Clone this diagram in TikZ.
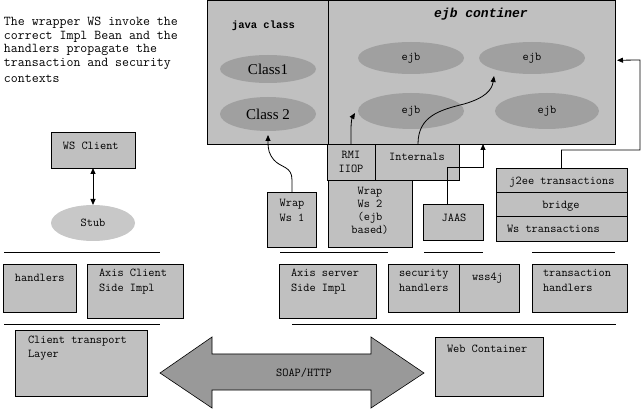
\documentclass[tikz,border=0pt]{standalone}
\usepackage{fontspec}
\setmainfont{Liberation Serif}
\newfontfamily\boldmono{Liberation Mono}
\usetikzlibrary{shapes.geometric,arrows.meta}
\definecolor{boxgray}{HTML}{C0C0C0}
\definecolor{ellgray}{HTML}{A0A0A0}
\definecolor{stubgray}{HTML}{C8C8C8}
\definecolor{arrgray}{HTML}{999999}
\newcommand\mfs{\fontsize{12}{15}\selectfont\ttfamily}
\begin{document}
\begin{tikzpicture}[x=1pt,y=-1pt,
  box/.style={draw, fill=boxgray, line width=0.9pt, inner sep=0, outer sep=0},
  ell/.style={ellipse, fill=ellgray, inner sep=0, outer sep=0, font=\mfs},
  txt/.style={font=\mfs, inner sep=0, outer sep=0},
  arr/.style={line width=0.8pt, -{Triangle[length=6pt,width=5pt]}},
  dblarr/.style={line width=0.8pt, {Triangle[length=6pt,width=5pt]}-{Triangle[length=6pt,width=5pt]}},
  rule/.style={line width=0.9pt}]
\fill[white] (0,0) rectangle (641,409);
\useasboundingbox (0,0) rectangle (641,409);

% description
\node[txt, anchor=north west, align=left, font=\fontsize{13.5}{13.6}\selectfont\ttfamily] (desc) at (4,17)
  {The wrapper WS invoke the\\correct Impl Bean and the\\handlers propagate the\\transaction and security\\[3pt]contexts};

% containers
\node[box, minimum width=121pt, minimum height=143.5pt] (java) at (267.5,72.25) {};
\node[box, minimum width=287pt, minimum height=143.5pt] (ejbc) at (471.5,72.25) {};
\node[txt, font=\fontsize{10.5}{12}\selectfont\boldmono\bfseries] (javat) at (263.5,26) {java class};
\node[txt, font=\fontsize{13}{14}\selectfont\boldmono\bfseries\itshape] (ejbt) at (481,14) {ejb continer};

\node[ell, minimum width=96pt, minimum height=28pt, font=\fontsize{15}{16}\selectfont\rmfamily] (class1) at (268,69) {Class1};
\node[ell, minimum width=96pt, minimum height=34pt, font=\fontsize{15}{16}\selectfont\rmfamily] (class2) at (268,114) {Class 2};

\node[ell, minimum width=106pt, minimum height=32pt] (ejb1) at (411,58) {ejb};
\node[ell, minimum width=106pt, minimum height=32pt] (ejb2) at (532,58) {ejb};
\node[ell, minimum width=106pt, minimum height=36pt] (ejb3) at (411,111) {ejb};
\node[ell, minimum width=104pt, minimum height=36pt] (ejb4) at (547,111) {ejb};

% middle boxes
\node[box, minimum width=48pt, minimum height=36pt] (rmi) at (351,162) {};
\node[txt, align=center, font=\fontsize{12}{14}\selectfont\ttfamily] (rmit) at (351,162) {RMI\\IIOP};
\node[box, minimum width=84pt, minimum height=36pt] (intern) at (417,162) {};
\node[txt] (internt) at (417,157) {Internals};
\node[box, minimum width=84pt, minimum height=67pt] (wrap2) at (370,213.5) {};
\node[txt, align=center, font=\fontsize{12}{13.2}\selectfont\ttfamily] (wrap2t) at (370,211) {Wrap\\Ws 2\\ (ejb\\based)};
\node[box, minimum width=49pt, minimum height=55pt] (wrap1) at (291.5,219.5) {};
\node[txt, align=center] (wrap1t) at (292,210.5) {Wrap\\Ws 1};
\node[box, minimum width=60pt, minimum height=36pt] (jaas) at (453,222) {};
\node[txt] (jaast) at (454,218) {JAAS};
\node[box, minimum width=131pt, minimum height=24pt] (j2ee) at (561.5,180) {};
\node[box, minimum width=131pt, minimum height=24pt] (bridge) at (561.5,204) {};
\node[box, minimum width=131pt, minimum height=25pt] (wstx) at (561.5,228.5) {};
\node[txt] (j2eet) at (562,182) {j2ee transactions};
\node[txt] (bridget) at (561,206) {bridge};
\node[txt, anchor=west] (wstxt) at (507,229) {Ws transactions};

% client
\node[box, minimum width=84pt, minimum height=36pt] (wsc) at (93,150) {};
\node[txt, anchor=west] (wsct) at (63,146) {WS Client};
\node[ellipse, fill=stubgray, inner sep=0, outer sep=0, minimum width=84pt, minimum height=36pt, font=\mfs] (stub) at (93,223) {Stub};

% rules
\draw[rule] (4,252) -- (160,252);
\draw[rule] (4,324) -- (160,324);
\draw[rule] (280,252) -- (388,252);
\draw[rule] (424,252) -- (483,252);
\draw[rule] (532,252) -- (615,252);
\draw[rule] (292,324) -- (616,324);

% lower boxes
\node[box, minimum width=73pt, minimum height=48pt] (hc) at (39.5,288) {};
\node[txt, anchor=west] (hct) at (15,278) {handlers};
\node[box, minimum width=96pt, minimum height=54pt] (axc) at (135,291) {};
\node[txt, anchor=north west, align=left] (axct) at (99,269) {Axis Client\\Side Impl};
\node[box, minimum width=132pt, minimum height=66pt] (ctl) at (81,363) {};
\node[txt, anchor=north west, align=left, font=\fontsize{12}{14}\selectfont\ttfamily] (ctlt) at (28,336) {Client transport\\Layer};
\node[box, minimum width=97pt, minimum height=54pt] (axs) at (327.5,291) {};
\node[txt, anchor=north west, align=left] (axst) at (291,269) {Axis server\\Side Impl};
\node[box, minimum width=71pt, minimum height=48pt] (sec) at (423.5,288) {};
\node[txt, anchor=north west, align=left] (sect) at (399,269) {security\\handlers};
\node[box, minimum width=60pt, minimum height=48pt] (wss) at (489,288) {};
\node[txt, anchor=west] (wsst) at (472,278) {wss4j};
\node[box, minimum width=95pt, minimum height=48pt] (txh) at (579.5,288) {};
\node[txt, anchor=north west, align=left] (txht) at (543,269) {transaction\\handlers};
\node[box, minimum width=108pt, minimum height=59pt] (web) at (489,366.5) {};
\node[txt, anchor=west] (webt) at (447,349) {Web Container};

% big double arrow
\draw[fill=arrgray, line width=0.6pt] (160,373) -- (212,337) -- (212,354) -- (371,354) -- (371,337) -- (424,373)
  -- (371,408) -- (371,390) -- (212,390) -- (212,408) -- cycle;
\node[txt] (soap) at (304,373) {SOAP/HTTP};

% connectors
\draw[dblarr] (wsc.south) -- (stub.north);
\draw[arr] ([xshift=0.5pt]wrap1.north) -- (292,180) .. controls (292,166) and (281,168) .. (274,160)
  .. controls (269,154) and (268,150) .. ([yshift=-4pt]class2.south);
\draw[arr] (rmi.north) -- (351,130) .. controls (351,122) and (352,118) .. ([xshift=-3pt,yshift=-2pt]ejb3.west);
\draw[arr] ([xshift=1pt]intern.north) .. controls (418,116) and (440,110) .. (464,104)
  .. controls (485,98) and (492,90) .. ([xshift=-38pt,yshift=-2pt]ejb2.south);
\draw[arr] ([xshift=-6pt]jaas.north) |- (483,167) -- ([xshift=11.5pt]ejbc.south);
\draw[arr] (j2ee.north) -- (561.5,150) -| (640,60) -- ([xshift=2pt,yshift=12pt]ejbc.east);
\end{tikzpicture}
\end{document}
